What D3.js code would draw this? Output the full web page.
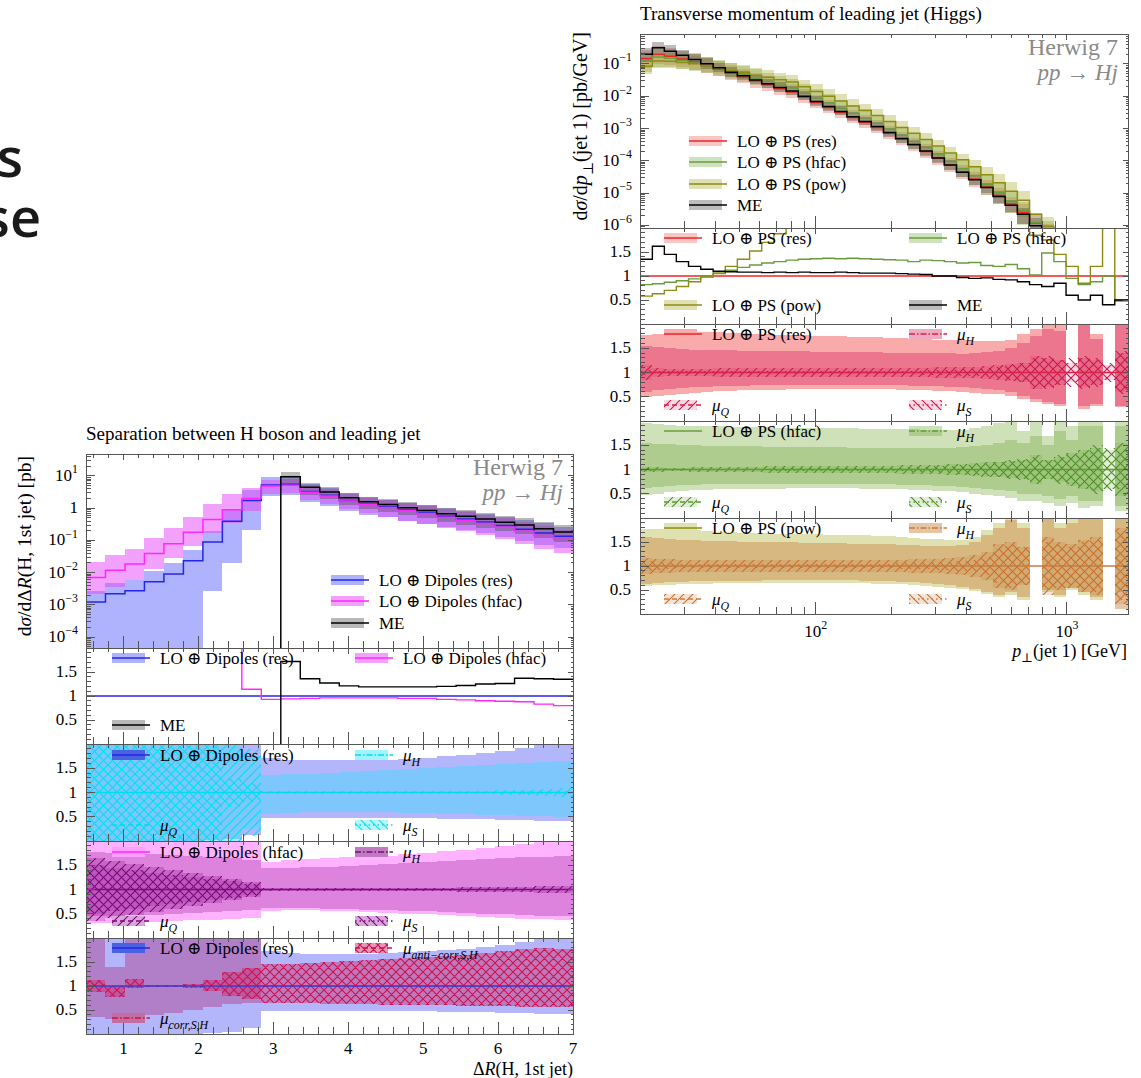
<!DOCTYPE html>
<html>
<head>
<meta charset="utf-8">
<script src="https://cdn.jsdelivr.net/npm/d3@7"></script>
<style>
  body { margin: 0; background: #fff; }
</style>
</head>
<body>
<script>
// ---------- right figure: pT of leading jet (Higgs) ----------
const ptEdges = [20,22.4,25,27.9,31.2,34.9,39.1,43.7,48.8,54.6,61,68.2,76.3,85.3,95.3,106.6,119.2,133.2,148.9,166.5,186.2,208.1,232.7,260.1,290.8,325.2,363.5,406.4,454.4,508,567.9,635,709.9,793.6,887.3,992,1109,1240,1386,1550,1750];
const ptME = [0.2,0.32,0.25,0.186,0.138,0.102,0.076,0.056,0.043,0.032,0.0245,0.0186,0.0145,0.01,0.0069,0.0048,0.0034,0.00234,0.00166,0.00115,7.6e-4,4.9e-4,3.2e-4,2.0e-4,1.23e-4,7.4e-5,4.4e-5,2.6e-5,1.48e-5,7.9e-6,4.2e-6,2.2e-6,9.8e-7,4.2e-7,1.8e-7,8e-8,3.2e-8,1.3e-8,5e-9,2e-9];
const ptMERatio = [1.35,1.62,1.45,1.3,1.2,1.14,1.1,1.09,1.08,1.08,1.07,1.08,1.07,1.08,1.07,1.07,1.08,1.07,1.06,1.06,1.06,1.05,1.04,1.03,1.0,1.0,0.97,0.95,0.96,0.93,0.92,0.88,0.82,0.78,0.85,0.6,0.5,0.6,0.4,0.5];
const ptHfacRatio = [0.82,0.84,0.87,0.9,0.94,0.99,1.05,1.12,1.18,1.23,1.27,1.3,1.33,1.35,1.36,1.37,1.36,1.37,1.36,1.35,1.34,1.33,1.3,1.33,1.32,1.3,1.27,1.28,1.22,1.2,1.24,1.15,1.02,1.48,1.3,0.95,0.82,0.88,1.0,0.48];
const ptPowRatio = [0.58,0.63,0.7,0.78,0.88,0.98,1.08,1.2,1.35,1.52,1.7,1.88,2.05,2.15,2.2,2.25,2.28,2.3,2.3,2.32,2.32,2.33,2.33,2.35,2.35,2.35,2.38,2.4,2.4,2.45,2.5,2.4,1.85,1.75,1.45,1.2,0.85,1.2,2.5,0.5];

const ptResTotUp = [1.78,1.8,1.82,1.83,1.84,1.84,1.83,1.82,1.82,1.8,1.8,1.78,1.78,1.77,1.76,1.76,1.75,1.74,1.74,1.73,1.72,1.72,1.7,1.7,1.68,1.68,1.66,1.65,1.64,1.65,1.66,1.8,1.9,1.98,2.0,null,2.0,1.8,null,2.0];
const ptResTotDn = [0.5,0.52,0.54,0.56,0.58,0.6,0.61,0.62,0.63,0.63,0.64,0.64,0.65,0.65,0.65,0.66,0.66,0.66,0.66,0.65,0.65,0.64,0.64,0.63,0.62,0.61,0.6,0.58,0.56,0.55,0.52,0.45,0.4,0.35,0.3,null,0.25,0.3,null,0.28];
const ptResHUp = [1.55,1.52,1.5,1.48,1.47,1.47,1.46,1.46,1.45,1.45,1.45,1.44,1.44,1.44,1.43,1.43,1.43,1.42,1.42,1.42,1.41,1.41,1.4,1.4,1.4,1.4,1.39,1.4,1.42,1.45,1.5,1.6,1.75,1.9,1.85,null,2.0,1.7,null,2.0];
const ptResHDn = [0.6,0.64,0.67,0.69,0.7,0.71,0.72,0.73,0.73,0.74,0.74,0.74,0.75,0.75,0.75,0.75,0.75,0.75,0.75,0.74,0.74,0.74,0.73,0.72,0.72,0.71,0.7,0.68,0.66,0.64,0.6,0.52,0.45,0.4,0.35,null,0.3,0.35,null,0.3];
const ptResQ = [0.15,0.1,0.08,0.08,0.08,0.08,0.09,0.09,0.09,0.1,0.1,0.1,0.1,0.1,0.1,0.1,0.1,0.1,0.1,0.1,0.1,0.1,0.1,0.1,0.11,0.11,0.12,0.12,0.13,0.15,0.17,0.2,0.35,0.3,0.25,0.2,0.3,0.25,0.15,0.4];
const ptResS = [0.05,0.04,0.03,0.03,0.03,0.03,0.03,0.03,0.03,0.03,0.03,0.03,0.03,0.03,0.03,0.03,0.03,0.03,0.03,0.03,0.04,0.04,0.04,0.05,0.05,0.06,0.07,0.08,0.1,0.12,0.15,0.2,0.3,0.35,0.25,0.3,0.35,0.3,0.2,0.45];

const ptHfacTotUp = [1.95,1.93,1.92,1.9,1.9,1.9,1.89,1.88,1.88,1.87,1.87,1.86,1.86,1.86,1.85,1.85,1.85,1.85,1.84,1.84,1.84,1.83,1.83,1.82,1.82,1.82,1.82,1.85,1.9,1.95,2.0,1.8,2.0,1.7,2.0,1.9,2.0,2.0,null,2.0];
const ptHfacTotDn = [0.48,0.5,0.53,0.55,0.57,0.58,0.59,0.6,0.6,0.6,0.6,0.6,0.61,0.61,0.61,0.61,0.61,0.61,0.6,0.6,0.6,0.59,0.58,0.57,0.56,0.55,0.53,0.5,0.47,0.45,0.42,0.35,0.35,0.3,0.25,0.3,0.2,0.25,null,0.15];
const ptHfacHUp = [1.55,1.53,1.52,1.5,1.5,1.49,1.49,1.48,1.48,1.48,1.47,1.47,1.47,1.46,1.46,1.46,1.46,1.45,1.45,1.45,1.45,1.44,1.44,1.44,1.45,1.45,1.46,1.48,1.5,1.55,1.6,1.55,1.7,1.5,1.8,1.6,1.9,1.9,null,1.9];
const ptHfacHDn = [0.62,0.64,0.66,0.68,0.69,0.7,0.7,0.71,0.71,0.71,0.71,0.71,0.71,0.71,0.71,0.71,0.71,0.7,0.7,0.7,0.7,0.69,0.69,0.68,0.67,0.66,0.64,0.62,0.6,0.57,0.55,0.5,0.5,0.45,0.4,0.45,0.35,0.35,null,0.25];
const ptHfacQ = [0.06,0.05,0.04,0.04,0.05,0.05,0.05,0.06,0.06,0.06,0.07,0.07,0.07,0.07,0.08,0.08,0.08,0.08,0.08,0.08,0.08,0.09,0.09,0.1,0.1,0.11,0.12,0.14,0.15,0.15,0.18,0.2,0.3,0.2,0.25,0.35,0.4,0.45,0.4,0.55];
const ptHfacS = [0.03,0.02,0.02,0.02,0.02,0.02,0.02,0.02,0.02,0.02,0.02,0.03,0.03,0.03,0.03,0.03,0.03,0.03,0.03,0.03,0.04,0.04,0.05,0.06,0.07,0.08,0.1,0.12,0.14,0.16,0.2,0.22,0.25,0.2,0.3,0.3,0.35,0.5,0.45,0.4];

const ptPowTotUp = [1.78,1.77,1.76,1.75,1.74,1.72,1.71,1.7,1.69,1.68,1.68,1.67,1.67,1.66,1.66,1.65,1.65,1.64,1.64,1.63,1.62,1.6,1.58,1.57,1.56,1.55,1.55,1.6,1.75,1.9,2.0,1.9,null,2.0,1.9,2.0,2.0,2.0,null,2.0];
const ptPowTotDn = [0.58,0.6,0.61,0.62,0.63,0.63,0.64,0.64,0.64,0.64,0.64,0.64,0.65,0.65,0.65,0.65,0.65,0.64,0.64,0.63,0.63,0.62,0.6,0.58,0.56,0.55,0.52,0.48,0.42,0.35,0.4,0.3,null,0.45,0.35,0.5,0.4,0.3,null,0.45];
const ptPowHUp = [1.6,1.58,1.56,1.55,1.54,1.53,1.52,1.52,1.51,1.5,1.5,1.49,1.49,1.48,1.48,1.47,1.47,1.46,1.46,1.46,1.45,1.44,1.43,1.42,1.42,1.42,1.43,1.5,1.65,1.8,1.95,1.8,null,2.0,1.8,1.9,2.0,2.0,null,2.0];
const ptPowHDn = [0.63,0.65,0.66,0.67,0.68,0.68,0.69,0.69,0.69,0.69,0.7,0.7,0.7,0.7,0.7,0.7,0.7,0.7,0.69,0.69,0.68,0.67,0.66,0.64,0.62,0.6,0.57,0.52,0.45,0.4,0.45,0.35,null,0.5,0.4,0.55,0.45,0.35,null,0.1];
const ptPowQ = [0.16,0.15,0.14,0.13,0.13,0.13,0.13,0.13,0.13,0.13,0.13,0.13,0.13,0.13,0.13,0.13,0.13,0.13,0.13,0.13,0.13,0.13,0.14,0.14,0.15,0.16,0.18,0.22,0.3,0.45,0.5,0.4,null,0.6,0.5,0.45,0.55,0.6,null,0.8];
const ptPowS = [0.1,0.08,0.06,0.05,0.05,0.05,0.05,0.05,0.05,0.05,0.05,0.05,0.05,0.05,0.05,0.05,0.05,0.05,0.05,0.05,0.05,0.06,0.06,0.07,0.08,0.09,0.1,0.12,0.18,0.35,0.45,0.4,null,0.5,0.45,0.4,0.5,0.55,null,0.7];

// ---------- left figure: dR(H, 1st jet) ----------
const dREdges = [0.5,0.76,1.02,1.28,1.54,1.8,2.06,2.32,2.58,2.84,3.1,3.36,3.62,3.88,4.14,4.4,4.66,4.92,5.18,5.44,5.7,5.96,6.22,6.48,6.74,7.0];
const dRRes = [1.23e-3,2.2e-3,2.75e-3,5.2e-3,9.1e-3,0.0234,0.089,0.39,1.74,5.2,5.5,3.3,2.5,1.74,1.32,1.1,0.87,0.71,0.56,0.46,0.37,0.29,0.22,0.17,0.135];
const dRHfacRatio = [5.8,5.4,6.8,7.6,8.7,7.6,5.0,2.3,1.14,0.93,0.94,0.95,0.96,0.96,0.96,0.96,0.95,0.95,0.93,0.92,0.9,0.89,0.88,0.83,0.8];
const dRMERatio = [null,null,null,null,null,null,null,null,null,null,1.72,1.36,1.27,1.21,1.19,1.19,1.19,1.19,1.2,1.22,1.25,1.26,1.37,1.36,1.35];

const dRResTotUp = [2.2,2.2,2.2,2.2,2.2,2.2,2.2,2.2,2.1,1.72,1.68,1.67,1.66,1.66,1.67,1.68,1.7,1.72,1.75,1.78,1.82,1.86,1.92,1.98,2.0];
const dRResTotDn = [0,0,0,0,0,0,0.03,0.05,0.12,0.47,0.47,0.47,0.48,0.48,0.48,0.48,0.47,0.47,0.46,0.45,0.45,0.44,0.43,0.42,0.42];
const dRResHUp = [2.2,2.2,2.2,2.2,2.2,2.2,2.2,2.2,1.75,1.36,1.38,1.39,1.4,1.42,1.44,1.46,1.48,1.5,1.52,1.54,1.56,1.58,1.6,1.62,1.64];
const dRResHDn = [0,0,0,0,0,0,0,0,0.25,0.56,0.58,0.59,0.6,0.6,0.6,0.59,0.58,0.57,0.56,0.55,0.54,0.53,0.52,0.51,0.5];
const dRResQ = [1,1,1,1,1,1,1,1,0.9,0.03,0.03,0.03,0.03,0.03,0.03,0.03,0.03,0.03,0.04,0.04,0.04,0.05,0.06,0.08,0.1];
const dRResS = [1,1,1,1,1,1,1,0.3,0.2,0.02,0.02,0.02,0.02,0.02,0.02,0.02,0.02,0.02,0.02,0.02,0.02,0.02,0.03,0.03,0.03];

const dRHfacTotUp = [3,3,3,3,3,3,3,3,2.2,1.56,1.6,1.62,1.64,1.66,1.68,1.7,1.73,1.76,1.79,1.82,1.86,1.9,1.94,1.98,2.0];
const dRHfacTotDn = [0.3,0.3,0.32,0.34,0.35,0.37,0.38,0.4,0.42,0.55,0.58,0.57,0.56,0.55,0.54,0.52,0.5,0.49,0.47,0.45,0.44,0.42,0.4,0.39,0.38];
const dRHfacHUp = [1.78,1.76,1.75,1.74,1.72,1.7,1.68,1.65,1.6,1.45,1.45,1.46,1.47,1.48,1.5,1.52,1.54,1.56,1.58,1.6,1.62,1.64,1.66,1.68,1.7];
const dRHfacHDn = [0.45,0.46,0.47,0.48,0.5,0.52,0.54,0.56,0.58,0.62,0.62,0.61,0.6,0.59,0.58,0.57,0.56,0.55,0.53,0.52,0.5,0.49,0.47,0.46,0.45];
const dRHfacQ = [0.65,0.58,0.52,0.46,0.4,0.34,0.28,0.22,0.15,0.03,0.04,0.03,0.03,0.03,0.03,0.03,0.04,0.04,0.04,0.05,0.05,0.06,0.06,0.07,0.07];
const dRHfacS = [0.5,0.45,0.4,0.35,0.3,0.26,0.22,0.17,0.12,0.02,0.02,0.02,0.02,0.02,0.02,0.02,0.02,0.02,0.02,0.02,0.02,0.02,0.02,0.02,0.02];

const dRCorrUp = [2.2,1.4,2.2,2.2,2.2,2.2,2.2,2.2,2.2,1.03,1.03,1.03,1.03,1.03,1.03,1.03,1.03,1.03,1.03,1.03,1.03,1.03,1.03,1.03,1.03];
const dRCorrDn = [0.35,0.32,0.38,0.4,0.44,0.5,0.56,0.62,0.64,0.97,0.97,0.97,0.97,0.97,0.97,0.97,0.97,0.97,0.97,0.97,0.97,0.97,0.97,0.97,0.97];
const dRAntiUp = [1.12,1.0,1.14,1.02,1.02,1.04,1.12,1.3,1.38,1.45,1.46,1.48,1.5,1.52,1.54,1.56,1.58,1.6,1.62,1.65,1.68,1.72,1.78,1.8,1.78];
const dRAntiDn = [0.88,0.78,0.96,0.97,0.98,0.95,0.9,0.8,0.72,0.65,0.65,0.64,0.63,0.62,0.62,0.61,0.61,0.6,0.6,0.59,0.58,0.58,0.57,0.57,0.56];

// ---------- helpers ----------
const svg = d3.select("body").append("svg").attr("width", 1141).attr("height", 1078)
  .style("font-family", "'Liberation Serif', 'DejaVu Serif', serif");
const defs = svg.append("defs");
let clipId = 0;
const FL = 17;   // legend text
const FT = 17;   // tick labels

function hatchPat(id, color, kind) {
  const s = 9;
  const f = `M0,${s}L${s},0M-2,2L2,-2M${s - 2},${s + 2}L${s + 2},${s - 2}`;
  const b = `M0,0L${s},${s}M-2,${s - 2}L2,${s + 2}M${s - 2},-2L${s + 2},2`;
  defs.append("pattern").attr("id", id).attr("patternUnits", "userSpaceOnUse")
    .attr("width", s).attr("height", s)
    .append("path").attr("d", kind === "/" ? f : kind === "\\" ? b : f + b)
    .attr("stroke", color).attr("stroke-width", 1.1).attr("fill", "none");
}

function makePanel(xs, y0, y1, dom, log) {
  const y = (log ? d3.scaleLog() : d3.scaleLinear()).domain(dom).range([y1, y0]);
  const [xa, xb] = xs.range();
  const id = "clip" + (clipId++);
  defs.append("clipPath").attr("id", id).append("rect")
    .attr("x", xa).attr("y", y0).attr("width", xb - xa).attr("height", y1 - y0);
  const g = svg.append("g");
  return { x: xs, y, log, y0, y1, xa, xb, g, inner: g.append("g").attr("clip-path", `url(#${id})`) };
}

function yc(p, v) {
  if (v == null || v === -Infinity || (p.log && v <= 0)) return p.y1 + 20;
  return Math.max(p.y0 - 20, Math.min(p.y1 + 20, p.y(v)));
}

function drawBand(p, edges, up, dn, fill) {
  const rows = edges.slice(0, -1).map((e, i) => ({ a: e, b: edges[i + 1], u: up[i], d: dn[i] }))
    .filter(d => d.u != null && d.d != null);
  p.inner.append("g").selectAll("rect").data(rows).join("rect")
    .attr("x", d => Math.round(p.x(d.a)))
    .attr("width", d => Math.round(p.x(d.b)) - Math.round(p.x(d.a)))
    .attr("y", d => yc(p, d.u))
    .attr("height", d => Math.max(0, yc(p, d.d) - yc(p, d.u)))
    .attr("fill", fill).attr("shape-rendering", "crispEdges");
}

function drawStep(p, edges, vals, color, w) {
  const pts = [];
  vals.forEach((v, i) => {
    if (v == null) return;
    if (i > 0 && vals[i - 1] == null) pts.push([edges[i], -Infinity]);
    pts.push([edges[i], v], [edges[i + 1], v]);
  });
  p.inner.append("path")
    .attr("d", d3.line().x(d => p.x(d[0])).y(d => yc(p, d[1]))(pts))
    .attr("fill", "none").attr("stroke", color).attr("stroke-width", w);
}

function frame(p, xMaj, xMin, yMaj, yMin) {
  const g = p.g.append("g").attr("stroke", "#555").attr("stroke-width", 1).attr("shape-rendering", "crispEdges");
  const L = (a, b, c, d) => g.append("line").attr("x1", a).attr("y1", b).attr("x2", c).attr("y2", d);
  const inX = v => p.x(v) > p.xa + 0.5 && p.x(v) < p.xb - 0.5;
  const inY = v => p.y(v) > p.y0 + 0.5 && p.y(v) < p.y1 - 0.5;
  xMaj.filter(inX).forEach(v => { const X = p.x(v); L(X, p.y1, X, p.y1 - 12); L(X, p.y0, X, p.y0 + 6); });
  xMin.filter(inX).forEach(v => { const X = p.x(v); L(X, p.y1, X, p.y1 - 7); L(X, p.y0, X, p.y0 + 3.5); });
  yMaj.filter(inY).forEach(v => { const Y = p.y(v); L(p.xa, Y, p.xa + 9, Y); L(p.xb, Y, p.xb - 5, Y); });
  yMin.filter(inY).forEach(v => { const Y = p.y(v); L(p.xa, Y, p.xa + 4.5, Y); L(p.xb, Y, p.xb - 2.5, Y); });
  g.append("rect").attr("x", p.xa).attr("y", p.y0).attr("width", p.xb - p.xa)
    .attr("height", p.y1 - p.y0).attr("fill", "none");
}

function rich(sel, parts, fs) {
  let shift = 0;
  parts.forEach(([t, st]) => {
    st = st || "";
    const ts = sel.append("tspan").text(t);
    let want = 0;
    if (st.includes("sub")) want = fs * 0.3;
    if (st.includes("sup")) want = -fs * 0.45;
    if (want !== shift) { ts.attr("dy", want - shift); shift = want; }
    if (want !== 0) ts.attr("font-size", fs * 0.7);
    if (st.includes("i")) ts.attr("font-style", "italic");
  });
}

function legend(p, x, y, parts, sw) {
  const g = p.g.append("g");
  (sw.fills || []).forEach(f => g.append("rect").attr("x", x).attr("y", y - 5)
    .attr("width", 33).attr("height", 10).attr("fill", f));
  g.append("line").attr("x1", x).attr("x2", x + 38).attr("y1", y).attr("y2", y)
    .attr("stroke", sw.line).attr("stroke-width", 1.6).attr("stroke-dasharray", sw.dash || null);
  rich(g.append("text").attr("x", x + 48).attr("y", y + 6).attr("font-size", FL), parts, FL);
}

function logLabels(p, exps) {
  exps.forEach(e => {
    const t = p.g.append("text").attr("x", p.xa - 8).attr("y", p.y(Math.pow(10, e)) + 5)
      .attr("text-anchor", "end").attr("font-size", FT);
    if (e === 0) t.text("1");
    else rich(t, [["10"], [String(e).replace("-", "\u2212"), "sup"]], FT);
  });
}

function ratioLabels(p) {
  [0.5, 1, 1.5].forEach(v => p.g.append("text").attr("x", p.xa - 9).attr("y", p.y(v) + 5)
    .attr("text-anchor", "end").attr("font-size", FT).text(String(v)));
}

const scaled = (vals, f) => vals.map((v, i) => v == null || f[i] == null ? null : v * f[i]);
const plus = w => w.map(v => v == null ? null : 1 + v);
const minus = w => w.map(v => v == null ? null : 1 - v);

const ratioMaj = [0.5, 1, 1.5];
const ratioMin = d3.range(1, 20).map(k => k / 10).filter(v => !ratioMaj.includes(v));
const logMinor = (e0, e1) => d3.range(e0, e1 + 1).flatMap(e => d3.range(2, 10).map(k => k * Math.pow(10, e)));

const LO = s => [["LO \u2295 " + s]];
const MU = s => [["\u03bc", "i"], [s, "isub"]];

function uncPanel(xs, edges, y0, y1, nominal, s, xMaj, xMin) {
  const p = makePanel(xs, y0, y1, [0, 2], false);
  drawBand(p, edges, s.totUp, s.totDn, s.tot);
  drawBand(p, edges, s.hUp, s.hDn, s.h);
  s.hatch.forEach(h => {
    drawBand(p, edges, h.up, h.dn, h.fill);
    drawBand(p, edges, h.up, h.dn, `url(#${h.pat})`);
  });
  drawStep(p, edges, nominal.map(v => v / v), s.line, 1.4);
  frame(p, xMaj, xMin, ratioMaj, ratioMin);
  ratioLabels(p);
  return p;
}

function tag(p, x, y) {
  p.g.append("text").attr("x", x).attr("y", y).attr("text-anchor", "end").attr("font-size", 24)
    .attr("fill", "#8a8a8a").text("Herwig 7");
  rich(p.g.append("text").attr("x", x).attr("y", y + 25).attr("text-anchor", "end").attr("font-size", 23)
    .attr("fill", "#8a8a8a"), [["pp \u2192 Hj", "i"]], 23);
}

// big cut-off slide text on the left
const big = svg.append("g").attr("font-family", "'Open Sans', sans-serif").attr("font-weight", 600)
  .attr("font-size", 54).attr("fill", "#1a1a1a").attr("text-anchor", "end");
big.append("text").attr("x", 23).attr("y", 177).text("s");
big.append("text").attr("x", 41).attr("y", 237).text("se");

// ================= right figure =================
const RX = d3.scaleLog().domain([20, 1750]).range([640, 1128]);
const rxMaj = [100, 1000];
const rxMin = [30, 40, 50, 60, 70, 80, 90, 200, 300, 400, 500, 600, 700, 800, 900];

const ptRes = ptME.map((v, i) => v / ptMERatio[i]);
const ptHfac = ptRes.map((v, i) => v * ptHfacRatio[i]);
const ptPow = ptRes.map((v, i) => v * ptPowRatio[i]);

const C = {
  res: "#ee2424", resBand: "rgba(240,90,90,0.35)",
  hfac: "#6a9c3c", hfacBand: "rgba(120,170,70,0.35)",
  pow: "#8c8c14", powBand: "rgba(165,165,40,0.35)",
  me: "#000", meBand: "rgba(80,80,80,0.38)"
};

svg.append("text").attr("x", 640).attr("y", 20).attr("font-size", 19)
  .text("Transverse momentum of leading jet (Higgs)");

const rM = makePanel(RX, 34, 228, [8.3e-7, 0.85], true);
drawBand(rM, ptEdges, scaled(ptRes, ptResTotUp), scaled(ptRes, ptResTotDn), C.resBand);
drawBand(rM, ptEdges, scaled(ptHfac, ptHfacTotUp), scaled(ptHfac, ptHfacTotDn), C.hfacBand);
drawBand(rM, ptEdges, scaled(ptPow, ptPowTotUp), scaled(ptPow, ptPowTotDn), C.powBand);
drawBand(rM, ptEdges, scaled(ptME, ptResHUp), scaled(ptME, ptResHDn), C.meBand);
drawStep(rM, ptEdges, ptRes, C.res, 1.5);
drawStep(rM, ptEdges, ptHfac, C.hfac, 1.5);
drawStep(rM, ptEdges, ptPow, C.pow, 1.5);
drawStep(rM, ptEdges, ptME, C.me, 1.5);
frame(rM, rxMaj, rxMin, d3.range(-6, 0).map(e => Math.pow(10, e)), logMinor(-7, -1));
logLabels(rM, [-1, -2, -3, -4, -5, -6]);
tag(rM, 1118, 55);
legend(rM, 689, 141, LO("PS (res)"), { fills: [C.resBand], line: C.res });
legend(rM, 689, 162, LO("PS (hfac)"), { fills: [C.hfacBand], line: C.hfac });
legend(rM, 689, 184, LO("PS (pow)"), { fills: [C.powBand], line: C.pow });
legend(rM, 689, 205, [["ME"]], { fills: [C.meBand], line: C.me });
rich(svg.append("text").attr("transform", "translate(587,32) rotate(-90)").attr("text-anchor", "end")
  .attr("font-size", 20), [["d"], ["\u03c3", "i"], ["/d"], ["p", "i"], ["\u22a5", "sub"], ["(jet 1) [pb/GeV]"]], 20);

const rR = makePanel(RX, 228, 324, [0, 2], false);
drawStep(rR, ptEdges, ptRes.map((v, i) => v / ptRes[i]), C.res, 1.5);
drawStep(rR, ptEdges, ptHfacRatio, C.hfac, 1.4);
drawStep(rR, ptEdges, ptPowRatio, C.pow, 1.4);
drawStep(rR, ptEdges, ptMERatio, C.me, 1.4);
frame(rR, rxMaj, rxMin, ratioMaj, ratioMin);
ratioLabels(rR);
legend(rR, 664, 238, LO("PS (res)"), { fills: [C.resBand], line: C.res });
legend(rR, 909, 238, LO("PS (hfac)"), { fills: [C.hfacBand], line: C.hfac });
legend(rR, 664, 305, LO("PS (pow)"), { fills: [C.powBand], line: C.pow });
legend(rR, 909, 305, [["ME"]], { fills: [C.meBand], line: C.me });

hatchPat("rq", "#c8194c", "/"); hatchPat("rs", "#c8194c", "\\");
hatchPat("hq", "#4f9126", "/"); hatchPat("hs", "#4f9126", "\\");
hatchPat("pq", "#c8702f", "/"); hatchPat("ps", "#c8702f", "\\");

const specs = [
  { name: "PS (res)", tot: "#f9aaaa", h: "rgba(215,40,100,0.4)", line: "#d8224a",
    totUp: ptResTotUp, totDn: ptResTotDn, hUp: ptResHUp, hDn: ptResHDn, q: ptResQ, s: ptResS, pq: "rq", ps: "rs", qf: "rgba(215,40,100,0.18)" },
  { name: "PS (hfac)", tot: "#cfe1b8", h: "rgba(110,165,60,0.35)", line: "#5f9a35",
    totUp: ptHfacTotUp, totDn: ptHfacTotDn, hUp: ptHfacHUp, hDn: ptHfacHDn, q: ptHfacQ, s: ptHfacS, pq: "hq", ps: "hs", qf: "rgba(100,160,50,0.18)" },
  { name: "PS (pow)", tot: "#dfe2b0", h: "rgba(205,150,90,0.55)", line: "#c87a40",
    totUp: ptPowTotUp, totDn: ptPowTotDn, hUp: ptPowHUp, hDn: ptPowHDn, q: ptPowQ, s: ptPowS, pq: "pq", ps: "ps", qf: "rgba(200,120,60,0.2)" }
];
specs.forEach((s, k) => {
  const y0 = [324, 421, 518][k], y1 = [421, 518, 614][k];
  const p = uncPanel(RX, ptEdges, y0, y1, ptRes, {
    tot: s.tot, h: s.h, line: s.line, totUp: s.totUp, totDn: s.totDn, hUp: s.hUp, hDn: s.hDn,
    hatch: [{ up: plus(s.q), dn: minus(s.q), fill: s.qf, pat: s.pq },
            { up: plus(s.s), dn: minus(s.s), fill: "none", pat: s.ps }]
  }, rxMaj, rxMin);
  const mainLine = [C.res, C.hfac, C.pow][k];
  legend(p, 664, y0 + 10, LO(s.name), { fills: [s.tot], line: mainLine });
  legend(p, 909, y0 + 10, MU("H"), { fills: [s.h], line: s.line, dash: "6,2,1.5,2" });
  legend(p, 664, y0 + 81, MU("Q"), { fills: [s.qf, `url(#${s.pq})`], line: s.line, dash: "5,3" });
  legend(p, 909, y0 + 81, MU("S"), { fills: [s.qf, `url(#${s.ps})`], line: s.line, dash: "1.5,3" });
});
rxMaj.forEach((v, j) => rich(svg.append("text").attr("x", RX(v)).attr("y", 637).attr("text-anchor", "middle")
  .attr("font-size", FT), [["10"], [String(j + 2), "sup"]], FT));
rich(svg.append("text").attr("x", 1127).attr("y", 657).attr("text-anchor", "end").attr("font-size", 18),
  [["p", "i"], ["\u22a5", "sub"], ["(jet 1) [GeV]"]], 18);

// ================= left figure =================
const LX = d3.scaleLinear().domain([0.5, 7]).range([86, 573]);
const lxMaj = [1, 2, 3, 4, 5, 6, 7];
const lxMin = d3.range(3, 35).map(k => k / 5).filter(v => !Number.isInteger(v));

const dRHfac = dRRes.map((v, i) => v * dRHfacRatio[i]);
const dRME = dRRes.map((v, i) => dRMERatio[i] == null ? null : v * dRMERatio[i]);

const D = {
  res: "#2626e8", resBand: "rgba(110,115,250,0.55)",
  hfac: "#ff26ff", hfacBand: "rgba(230,70,250,0.5)",
  me: "#000", meBand: "rgba(80,80,80,0.4)"
};

svg.append("text").attr("x", 86).attr("y", 440).attr("font-size", 19)
  .text("Separation between H boson and leading jet");

const lM = makePanel(LX, 454, 648, [4.6e-5, 47.9], true);
drawBand(lM, dREdges, scaled(dRRes, dRResTotUp), scaled(dRRes, dRResTotDn), D.resBand);
drawBand(lM, dREdges, scaled(dRHfac, dRHfacTotUp), scaled(dRHfac, dRHfacTotDn), D.hfacBand);
drawBand(lM, dREdges, scaled(dRME, dRResHUp), scaled(dRME, dRResHDn), D.meBand);
drawStep(lM, dREdges, dRRes, D.res, 1.5);
drawStep(lM, dREdges, dRHfac, D.hfac, 1.5);
drawStep(lM, dREdges, dRME, D.me, 1.5);
frame(lM, lxMaj, lxMin, d3.range(-4, 2).map(e => Math.pow(10, e)), logMinor(-5, 1));
logLabels(lM, [1, 0, -1, -2, -3, -4]);
tag(lM, 563, 475);
legend(lM, 331, 580, LO("Dipoles (res)"), { fills: [D.resBand], line: D.res });
legend(lM, 331, 601, LO("Dipoles (hfac)"), { fills: [D.hfacBand], line: D.hfac });
legend(lM, 331, 623, [["ME"]], { fills: [D.meBand], line: D.me });
rich(svg.append("text").attr("transform", "translate(31,456) rotate(-90)").attr("text-anchor", "end")
  .attr("font-size", 19.5), [["d"], ["\u03c3", "i"], ["/d\u0394"], ["R", "i"], ["(H, 1st jet) [pb]"]], 19.5);

const lR = makePanel(LX, 648, 744, [0, 2], false);
drawStep(lR, dREdges, dRRes.map((v, i) => v / dRRes[i]), D.res, 1.5);
drawStep(lR, dREdges, dRHfacRatio, D.hfac, 1.4);
drawStep(lR, dREdges, dRMERatio, D.me, 1.4);
frame(lR, lxMaj, lxMin, ratioMaj, ratioMin);
ratioLabels(lR);
legend(lR, 112, 658, LO("Dipoles (res)"), { fills: [D.resBand], line: D.res });
legend(lR, 355, 658, LO("Dipoles (hfac)"), { fills: [D.hfacBand], line: D.hfac });
legend(lR, 112, 725, [["ME"]], { fills: [D.meBand], line: D.me });

hatchPat("lrq", "#00e0ee", "/"); hatchPat("lrs", "#00e0ee", "\\");
hatchPat("lhq", "#7a0a7a", "/"); hatchPat("lhs", "#7a0a7a", "\\");
hatchPat("lx", "#cc1155", "x");

const lU1 = uncPanel(LX, dREdges, 744, 841, dRRes, {
  tot: "#b3b6fb", h: "rgba(60,220,255,0.45)", line: "#00dcf0",
  totUp: dRResTotUp, totDn: dRResTotDn, hUp: dRResHUp, hDn: dRResHDn,
  hatch: [{ up: plus(dRResQ), dn: minus(dRResQ), fill: "none", pat: "lrq" },
          { up: plus(dRResS), dn: minus(dRResS), fill: "none", pat: "lrs" }]
}, lxMaj, lxMin);
legend(lU1, 112, 755, LO("Dipoles (res)"), { fills: ["#4a62e0"], line: D.res });
legend(lU1, 355, 755, MU("H"), { fills: ["#a0f4ff"], line: "#00dcf0", dash: "6,2,1.5,2" });
legend(lU1, 112, 825, MU("Q"), { fills: [], line: "#00dcf0", dash: "5,3" });
legend(lU1, 355, 825, MU("S"), { fills: ["#b8f6ff", "url(#lrs)"], line: "#00dcf0", dash: "1.5,3" });

const lU2 = uncPanel(LX, dREdges, 841, 938, dRRes, {
  tot: "#ffb2ff", h: "rgba(170,60,170,0.4)", line: "#800a80",
  totUp: dRHfacTotUp, totDn: dRHfacTotDn, hUp: dRHfacHUp, hDn: dRHfacHDn,
  hatch: [{ up: plus(dRHfacQ), dn: minus(dRHfacQ), fill: "rgba(128,0,128,0.22)", pat: "lhq" },
          { up: plus(dRHfacS), dn: minus(dRHfacS), fill: "rgba(128,0,128,0.15)", pat: "lhs" }]
}, lxMaj, lxMin);
legend(lU2, 112, 852, LO("Dipoles (hfac)"), { fills: ["#ff9cff"], line: D.hfac });
legend(lU2, 355, 852, MU("H"), { fills: ["#c07ac0"], line: "#800a80", dash: "6,2,1.5,2" });
legend(lU2, 112, 921, MU("Q"), { fills: ["#d9a6d9", "url(#lhq)"], line: "#800a80", dash: "5,3" });
legend(lU2, 355, 921, MU("S"), { fills: ["#d9a6d9", "url(#lhs)"], line: "#800a80", dash: "1.5,3" });

const lU3 = makePanel(LX, 938, 1034, [0, 2], false);
drawBand(lU3, dREdges, dRResTotUp, dRResTotDn, "#b3b6fb");
drawBand(lU3, dREdges, dRCorrUp, dRCorrDn, "rgba(175,70,150,0.5)");
drawBand(lU3, dREdges, dRAntiUp, dRAntiDn, "rgba(210,30,90,0.4)");
drawBand(lU3, dREdges, dRAntiUp, dRAntiDn, "url(#lx)");
drawStep(lU3, dREdges, dRRes.map((v, i) => v / dRRes[i]), "#3a3ad0", 1.4);
frame(lU3, lxMaj, lxMin, ratioMaj, ratioMin);
ratioLabels(lU3);
legend(lU3, 112, 948, LO("Dipoles (res)"), { fills: ["#4a62e0"], line: D.res });
legend(lU3, 355, 948, MU("anti\u2212corr,S,H"), { fills: ["#e796b4", "url(#lx)"], line: "#cc1155", dash: "5,3" });
legend(lU3, 112, 1018, MU("corr,S,H"), { fills: ["#c06fa0"], line: "#cc1155", dash: "6,2,1.5,2" });

lxMaj.forEach(v => svg.append("text").attr("x", LX(v)).attr("y", 1054).attr("text-anchor", "middle")
  .attr("font-size", FT).text(String(v)));
rich(svg.append("text").attr("x", 573).attr("y", 1075).attr("text-anchor", "end").attr("font-size", 18),
  [["\u0394"], ["R", "i"], ["(H, 1st jet)"]], 18);
</script>
</body>
</html>
